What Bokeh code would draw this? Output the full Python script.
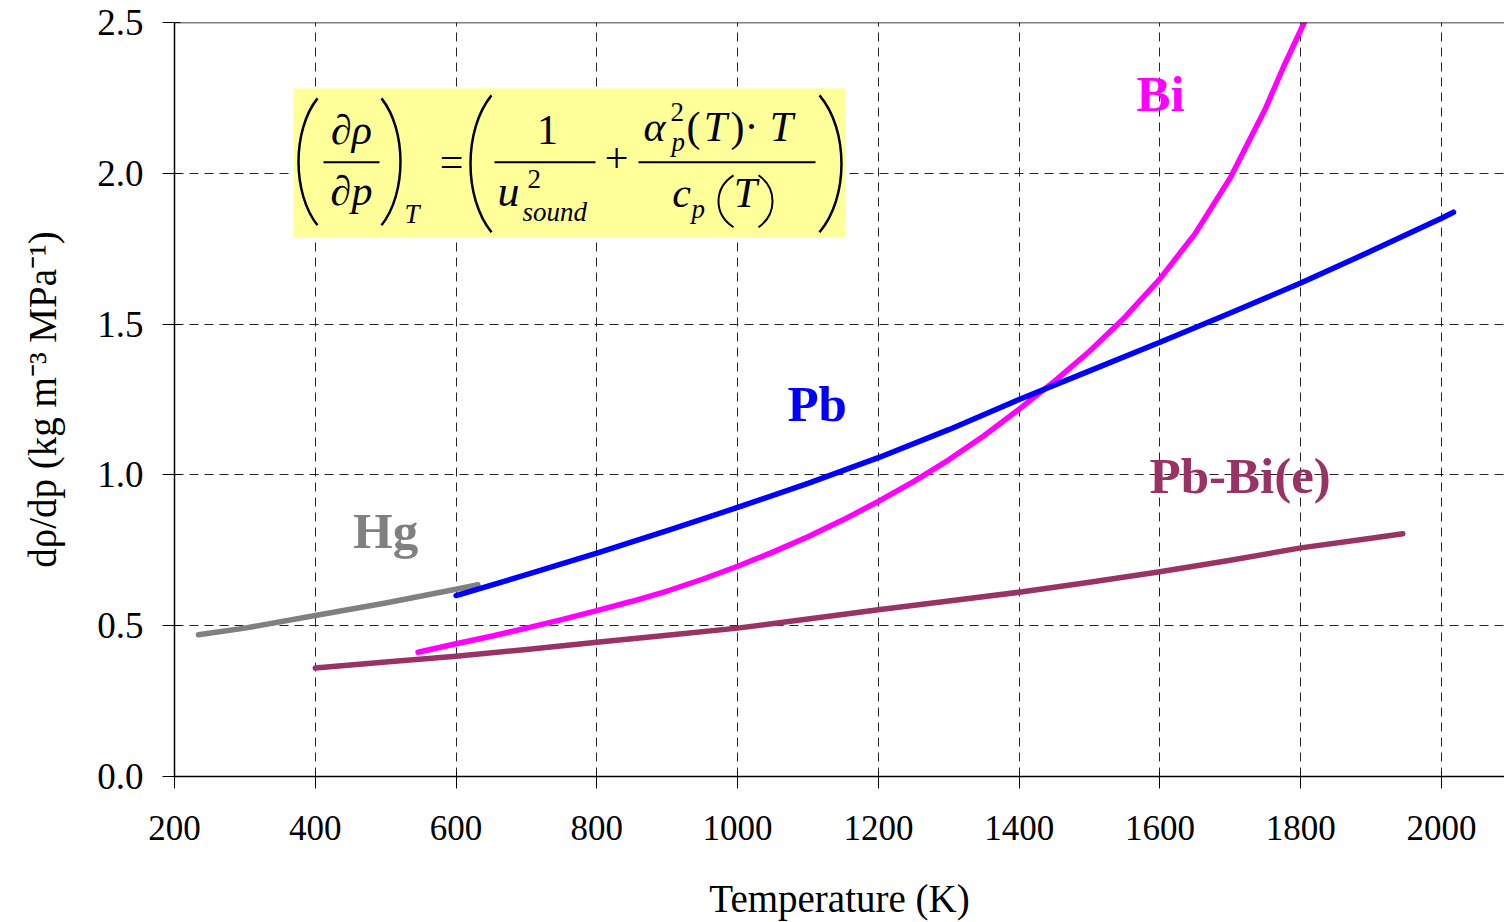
from bokeh.plotting import figure
from bokeh.models import Range1d, FixedTicker, Span, NumeralTickFormatter
from bokeh.core.properties import value
from bokeh.embed import file_html
from bokeh.resources import INLINE

# ---- data: temperature (K) vs. d(rho)/dp (kg m^-3 MPa^-1) ----
hg_T = [234, 300, 400, 500, 600, 631]
hg_v = [0.470, 0.492, 0.534, 0.575, 0.621, 0.636]

pb_T = [600, 700, 800, 900, 1000, 1100, 1200, 1300, 1400, 1500, 1600, 1700, 1800, 1900, 2000, 2017]
pb_v = [0.600, 0.669, 0.741, 0.815, 0.892, 0.972, 1.057, 1.150, 1.250, 1.345, 1.440, 1.537, 1.636, 1.742, 1.851, 1.871]

bi_T = [546, 600, 650, 700, 750, 800, 850, 900, 950, 1000, 1050, 1100, 1150, 1200, 1250, 1300,
        1350, 1400, 1450, 1500, 1550, 1600, 1650, 1700, 1750, 1775, 1805]
bi_v = [0.412, 0.440, 0.465, 0.492, 0.520, 0.550, 0.581, 0.615, 0.654, 0.697, 0.744, 0.795, 0.851,
        0.912, 0.978, 1.050, 1.130, 1.218, 1.310, 1.410, 1.522, 1.650, 1.800, 1.985, 2.215, 2.350, 2.500]

pbbi_T = [400, 500, 600, 700, 800, 900, 1000, 1100, 1200, 1300, 1400, 1500, 1600, 1700, 1800, 1900, 1945]
pbbi_v = [0.360, 0.380, 0.399, 0.421, 0.445, 0.468, 0.492, 0.522, 0.553, 0.582, 0.611, 0.644, 0.679, 0.717, 0.758, 0.790, 0.805]

x_ticks = [200, 400, 600, 800, 1000, 1200, 1400, 1600, 1800, 2000]
y_ticks = [0.0, 0.5, 1.0, 1.5, 2.0, 2.5]

SERIF = value("Liberation Serif")
BASE_SHIFT = 0.37  # em offset so glyph baselines land where intended

# ---- canvas / frame geometry ----
W, H = 1504, 922
LEFT, TOP, BOTTOM = 174, 22, 145
FRAME_W, FRAME_H = W - LEFT, H - TOP - BOTTOM
X_MIN, X_MAX = 200, 2089.5
Y_MIN, Y_MAX = 0.0, 2.5


def dx(px):
    return X_MIN + (px - LEFT) * (X_MAX - X_MIN) / FRAME_W


def dy(py):
    return Y_MAX - (py - TOP) * (Y_MAX - Y_MIN) / FRAME_H


p = figure(width=W, height=H,
           x_range=Range1d(X_MIN, X_MAX), y_range=Range1d(Y_MIN, Y_MAX),
           output_backend="svg", toolbar_location=None,
           min_border_left=LEFT, min_border_top=TOP,
           min_border_bottom=BOTTOM, min_border_right=0)
p.outline_line_color = None
p.background_fill_color = "white"
p.border_fill_color = "white"

# ---- axes ----
for ax in (p.xaxis[0], p.yaxis[0]):
    ax.axis_line_color = "black"
    ax.axis_line_width = 1.5
    ax.major_tick_line_color = "black"
    ax.major_tick_line_width = 1
    ax.major_tick_out = 12
    ax.minor_tick_line_color = None
    ax.major_label_text_font = "Liberation Serif"
    ax.major_label_text_color = "black"
    ax.axis_label_text_font = "Liberation Serif"
    ax.axis_label_text_font_style = "normal"
    ax.axis_label_text_color = "black"

p.xaxis.ticker = FixedTicker(ticks=x_ticks)
p.xaxis.formatter = NumeralTickFormatter(format="0")
p.xaxis.major_tick_in = 5
p.xaxis.major_label_text_font_size = "35px"
p.xaxis.major_label_standoff = 27
p.xaxis.axis_label = "Temperature (K)"
p.xaxis.axis_label_text_font_size = "39px"
p.xaxis.axis_label_standoff = 34

p.yaxis.ticker = FixedTicker(ticks=y_ticks)
p.yaxis.formatter = NumeralTickFormatter(format="0.0")
p.yaxis.major_tick_in = 6
p.yaxis.major_label_text_font_size = "37px"
p.yaxis.major_label_standoff = 19
p.yaxis.axis_label = "dρ/dp (kg m⁻³ MPa⁻¹)"
p.yaxis.axis_label_text_font_size = "39px"
p.yaxis.axis_label_standoff = 30

# ---- dashed grid ----
p.xgrid.ticker = FixedTicker(ticks=x_ticks)
p.ygrid.ticker = FixedTicker(ticks=y_ticks)
for g in (p.xgrid[0], p.ygrid[0]):
    g.grid_line_color = "black"
    g.grid_line_alpha = 0.85
    g.grid_line_width = 1
    g.grid_line_dash = "9 6"

p.add_layout(Span(location=Y_MAX, dimension="width", line_color="black", line_width=1.5))

# ---- equation inset (yellow box) ----
p.quad(left=[dx(293)], right=[dx(845)], bottom=[dy(237)], top=[dy(88)],
       fill_color="#FFFF99", line_color=None)

# fraction bars
bars = [(323, 379), (494, 595), (638, 815)]
p.segment(x0=[dx(a) for a, b in bars], x1=[dx(b) for a, b in bars],
          y0=[dy(162)] * 3, y1=[dy(162)] * 3, line_color="black", line_width=2)

# stretched parentheses drawn as thin curves: (end x, control x, top y, bottom y, width)
parens = [(317, 291.7, 98, 225, 2.5), (381, 406.3, 98, 225, 2.5),
          (491, 463.0, 95, 232, 2.5), (819, 848.3, 95, 232, 2.5),
          (733, 713.0, 175, 227, 2.0), (758, 776.7, 175, 227, 2.0)]
for e, c, t, b, w in parens:
    p.bezier(x0=[dx(e)], y0=[dy(t)], x1=[dx(e)], y1=[dy(b)],
             cx0=[dx(c)], cy0=[dy(t + (b - t) * 0.25)],
             cx1=[dx(c)], cy1=[dy(b - (b - t) * 0.25)],
             line_color="black", line_width=w)

# symbols: (text, x px, baseline px, size, style, align)
eq = [
    ("∂ρ", 351, 145, 42, "italic", "center"),
    ("∂p", 351, 206, 42, "italic", "center"),
    ("T", 404, 224, 27, "italic", "left"),
    ("=", 451, 177, 42, "normal", "center"),
    ("1", 547, 145, 42, "normal", "center"),
    ("u", 497, 208, 44, "italic", "left"),
    ("2", 527, 189, 27, "normal", "left"),
    ("sound", 522, 222, 27, "italic", "left"),
    ("+", 616, 173, 42, "normal", "center"),
    ("α", 643, 142, 42, "italic", "left"),
    ("2", 670, 122, 27, "normal", "left"),
    ("p", 671, 152, 27, "italic", "left"),
    ("(", 693, 142, 42, "normal", "center"),
    ("T", 715, 142, 42, "italic", "center"),
    (")", 737, 142, 42, "normal", "center"),
    ("·", 751, 142, 42, "normal", "center"),
    ("T", 781, 142, 42, "italic", "center"),
    ("c", 681, 208, 42, "italic", "center"),
    ("p", 691, 219, 27, "italic", "left"),
    ("T", 745, 208, 42, "italic", "center"),
]
p.text(x=[dx(e[1]) for e in eq],
       y=[dy(e[2] - BASE_SHIFT * e[3]) for e in eq],
       text=[e[0] for e in eq],
       text_font=SERIF, text_font_size=[f"{e[3]}px" for e in eq],
       text_font_style=[e[4] for e in eq], text_align=[e[5] for e in eq],
       text_baseline="alphabetic", text_color="black")

# ---- curves ----
series = [
    (hg_T, hg_v, "#808080"),
    (pbbi_T, pbbi_v, "#993366"),
    (bi_T, bi_v, "#FF00FF"),
    (pb_T, pb_v, "#0000FF"),
]
for T, v, c in series:
    p.line(T, v, line_color=c, line_width=5.5, line_cap="round", line_join="round")

# ---- series names (x in K, baseline in px) ----
NAME_SIZE = 51
names = [
    ("Hg", 500, 550, "#808080"),
    ("Pb", 1113, 423, "#0000FF"),
    ("Bi", 1601, 112, "#FF00FF"),
    ("Pb-Bi(e)", 1714, 495, "#993366"),
]
p.text(x=[n[1] for n in names], y=[dy(n[2] - BASE_SHIFT * NAME_SIZE) for n in names],
       text=[n[0] for n in names],
       text_color=[n[3] for n in names], text_font=SERIF, text_font_size=f"{NAME_SIZE}px",
       text_font_style="bold", text_align="center", text_baseline="alphabetic")

open("out.html", "w").write(file_html(p, INLINE))
